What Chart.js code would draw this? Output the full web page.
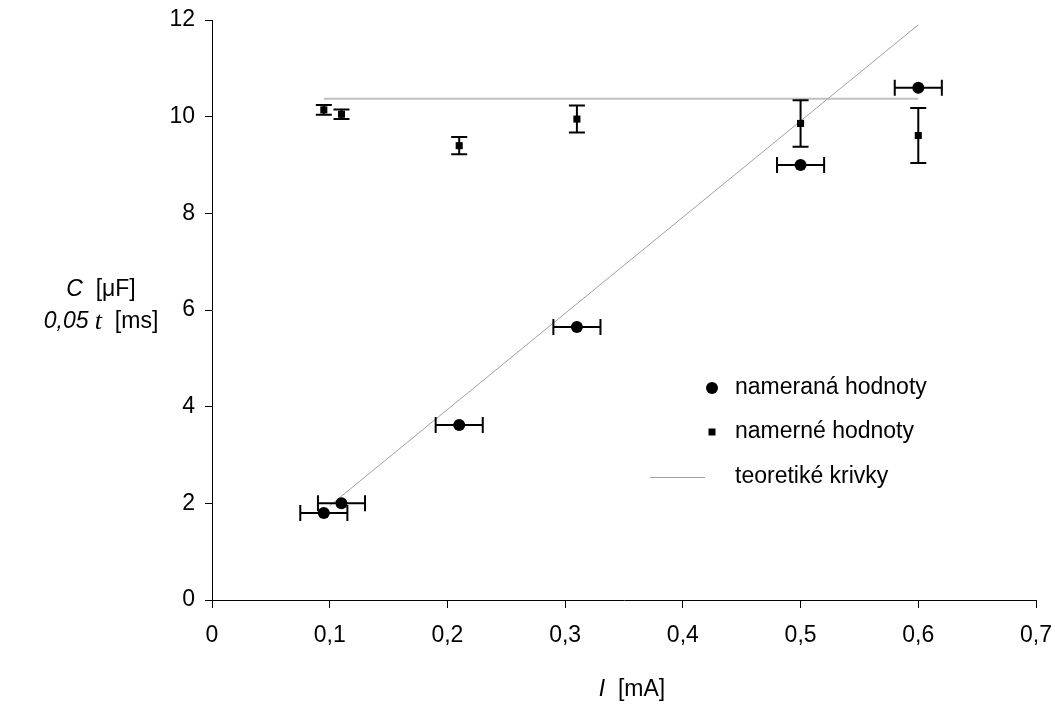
<!DOCTYPE html>
<html>
<head>
<meta charset="utf-8">
<script src="https://cdn.jsdelivr.net/npm/chart.js@4.4.1/dist/chart.umd.min.js"></script>
<style>
  body { margin: 0; background: #fff; }
  #wrap { width: 1055px; height: 714px; }
</style>
</head>
<body>
<div id="wrap"><canvas id="chart" width="1055" height="714"></canvas></div>
<script>
// measured values (circles): C [uF] vs I [mA]
const circleX = [0.095, 0.11, 0.21, 0.31, 0.5, 0.6];
const circleY = [1.8, 2.0, 3.62, 5.65, 9.0, 10.6];
const circleXErr = [0.02, 0.02, 0.02, 0.02, 0.02, 0.02];

// measured values (squares): 0,05 t [ms]
const squareX = [0.095, 0.11, 0.21, 0.31, 0.5, 0.6];
const squareY = [10.14, 10.05, 9.4, 9.95, 9.86, 9.61];
const squareYErr = [0.1, 0.1, 0.18, 0.28, 0.48, 0.57];

// theoretical curves
const lineX = [0.1, 0.6];
const lineY = [1.95, 11.9];
const flatX = [0.095, 0.6];
const flatY = [10.37, 10.37];

const xTicks = [0, 0.1, 0.2, 0.3, 0.4, 0.5, 0.6, 0.7];
const yTicks = [0, 2, 4, 6, 8, 10, 12];

const legendLabels = ['nameraná hodnoty', 'namerné hodnoty', 'teoretiké krivky'];

const FONT = "'Liberation Sans', Arial, sans-serif";
const SIZE = 23;

const toPts = (xs, ys) => xs.map((x, i) => ({ x: x, y: ys[i] }));

// draws a row of text pieces with different fonts, centered on cx
function drawPieces(ctx, pieces, cx, cy) {
  let total = 0;
  pieces.forEach(p => { ctx.font = p.font; total += ctx.measureText(p.text).width; });
  let x = cx - total / 2;
  pieces.forEach(p => {
    ctx.font = p.font;
    ctx.fillText(p.text, x, cy);
    x += ctx.measureText(p.text).width;
  });
}

const errorBars = {
  id: 'errorBars',
  afterDatasetsDraw(chart) {
    const ctx = chart.ctx;
    const xs = chart.scales.x, ys = chart.scales.y;
    ctx.save();
    ctx.strokeStyle = '#000';
    ctx.lineWidth = 2;
    // horizontal bars on circles
    circleX.forEach((x, i) => {
      const y = ys.getPixelForValue(circleY[i]);
      const x1 = xs.getPixelForValue(x - circleXErr[i]);
      const x2 = xs.getPixelForValue(x + circleXErr[i]);
      ctx.beginPath();
      ctx.moveTo(x1, y); ctx.lineTo(x2, y);
      ctx.moveTo(x1, y - 8); ctx.lineTo(x1, y + 8);
      ctx.moveTo(x2, y - 8); ctx.lineTo(x2, y + 8);
      ctx.stroke();
    });
    // vertical bars on squares
    squareX.forEach((x, i) => {
      const px = xs.getPixelForValue(x);
      const y1 = ys.getPixelForValue(squareY[i] - squareYErr[i]);
      const y2 = ys.getPixelForValue(squareY[i] + squareYErr[i]);
      ctx.beginPath();
      ctx.moveTo(px, y1); ctx.lineTo(px, y2);
      ctx.moveTo(px - 8, y1); ctx.lineTo(px + 8, y1);
      ctx.moveTo(px - 8, y2); ctx.lineTo(px + 8, y2);
      ctx.stroke();
    });
    ctx.restore();
  }
};

const labelsPlugin = {
  id: 'labelsPlugin',
  afterDraw(chart) {
    const ctx = chart.ctx;
    const f = SIZE + 'px ' + FONT;
    ctx.save();
    ctx.fillStyle = '#000';
    ctx.textBaseline = 'middle';
    ctx.textAlign = 'left';

    // axis titles
    drawPieces(ctx, [
      { text: 'C', font: 'italic ' + f },
      { text: '  [μF]', font: f }
    ], 101, 290);
    drawPieces(ctx, [
      { text: '0,05 ', font: 'italic ' + f },
      { text: 't', font: "italic 26px 'Liberation Serif', serif" },
      { text: '  [ms]', font: f }
    ], 101, 322);
    drawPieces(ctx, [
      { text: 'I', font: 'italic ' + f },
      { text: '  [mA]', font: f }
    ], 632, 690);

    // legend inside the plot
    const lx = 712, tx = 735;
    const rows = [388, 432, 477];
    ctx.font = f;
    ctx.beginPath();
    ctx.arc(lx, rows[0], 6, 0, Math.PI * 2);
    ctx.fill();
    ctx.fillRect(lx - 3.5, rows[1] - 3.5, 7, 7);
    ctx.strokeStyle = '#a0a0a0';
    ctx.lineWidth = 1;
    ctx.beginPath();
    ctx.moveTo(650, rows[2] + 0.5); ctx.lineTo(705, rows[2] + 0.5);
    ctx.stroke();
    legendLabels.forEach((t, i) => ctx.fillText(t, tx, rows[i]));
    ctx.restore();
  }
};

new Chart(document.getElementById('chart'), {
  type: 'scatter',
  data: {
    datasets: [
      {
        label: legendLabels[0],
        data: toPts(circleX, circleY),
        pointStyle: 'circle',
        pointRadius: 6,
        backgroundColor: '#000',
        borderColor: '#000',
        borderWidth: 0
      },
      {
        label: legendLabels[1],
        data: toPts(squareX, squareY),
        pointStyle: 'rect',
        pointRadius: 5,
        backgroundColor: '#000',
        borderColor: '#000',
        borderWidth: 0
      },
      {
        label: legendLabels[2],
        data: toPts(lineX, lineY),
        showLine: true,
        pointRadius: 0,
        borderColor: '#a0a0a0',
        borderWidth: 1
      },
      {
        label: legendLabels[2],
        data: toPts(flatX, flatY),
        showLine: true,
        pointRadius: 0,
        borderColor: '#c0c0c0',
        borderWidth: 2
      }
    ]
  },
  options: {
    responsive: false,
    animation: false,
    layout: { padding: { left: 0, right: 19, top: 20, bottom: 0 } },
    plugins: {
      legend: { display: false },
      tooltip: { enabled: false }
    },
    scales: {
      x: {
        type: 'linear',
        min: 0,
        max: 0.7,
        afterFit: s => { s.height = 114; s.paddingLeft = 0; s.paddingRight = 0; },
        afterBuildTicks: s => { s.ticks = xTicks.map(v => ({ value: v })); },
        grid: { drawOnChartArea: false, tickLength: 8, color: '#000' },
        border: { color: '#000', width: 1 },
        ticks: {
          color: '#000',
          padding: 14,
          font: { family: FONT, size: SIZE },
          callback: v => String(Math.round(v * 10) / 10).replace('.', ',')
        }
      },
      y: {
        min: 0,
        max: 12,
        afterFit: s => { s.width = 212; s.paddingTop = 0; s.paddingBottom = 0; },
        afterBuildTicks: s => { s.ticks = yTicks.map(v => ({ value: v })); },
        grid: { drawOnChartArea: false, tickLength: 7, color: '#000' },
        border: { color: '#000', width: 1 },
        ticks: {
          color: '#000',
          padding: 10,
          font: { family: FONT, size: SIZE }
        }
      }
    }
  },
  plugins: [errorBars, labelsPlugin]
});
</script>
</body>
</html>
